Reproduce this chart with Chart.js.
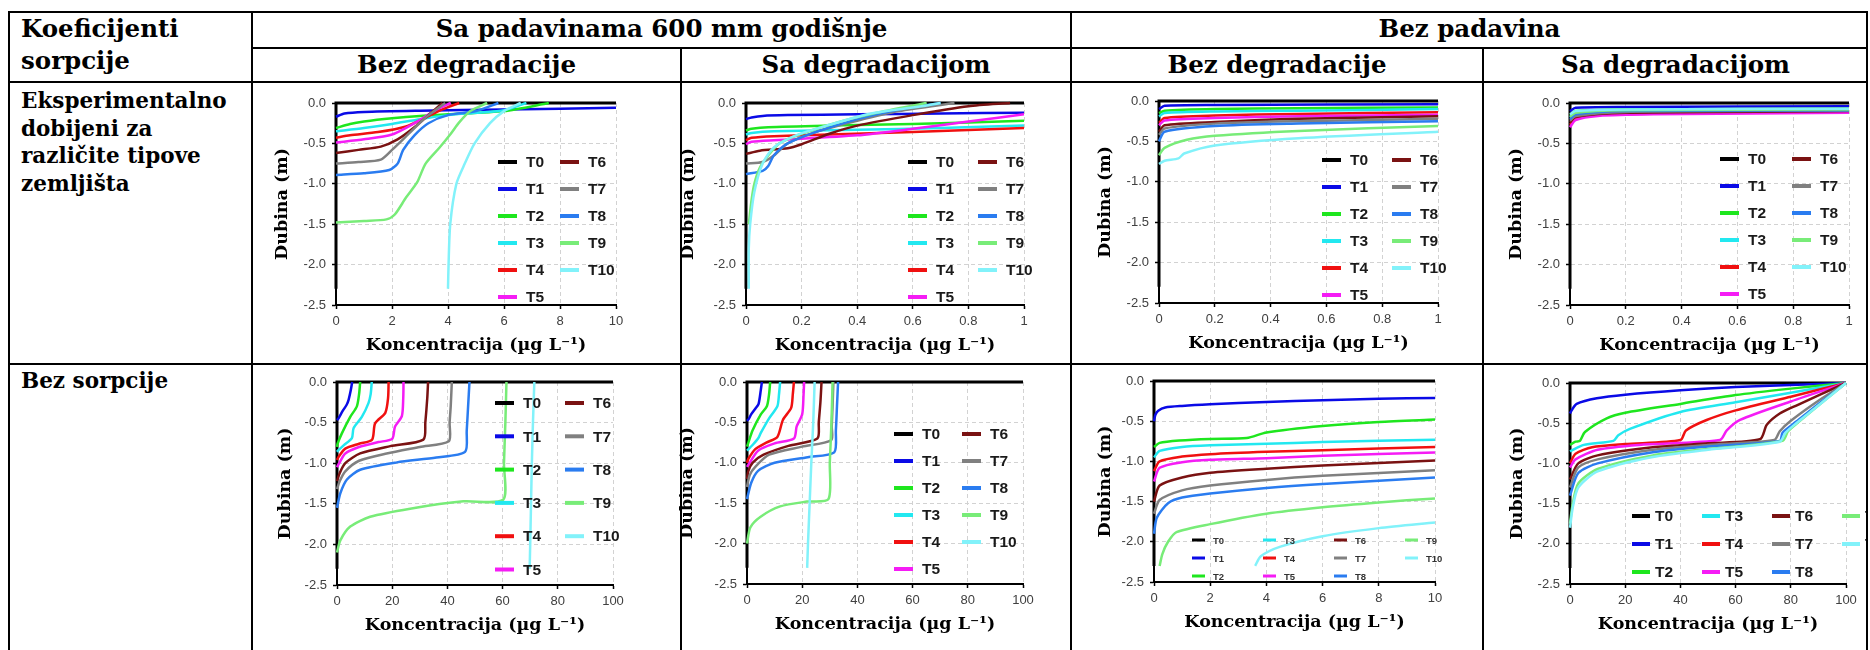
<!DOCTYPE html>
<html>
<head>
<meta charset="utf-8">
<script src="https://cdn.jsdelivr.net/npm/chart.js@4.4.0/dist/chart.umd.min.js"></script>
<style>
body { margin: 0; background: #fff; width: 1870px; height: 650px; overflow: hidden; position: relative; font-family: 'DejaVu Serif', serif; }
.ln { position: absolute; background: #000; z-index: 2; }
.tx { position: absolute; font-weight: bold; color: #000; white-space: nowrap; }
.hd { font-size: 24.5px; line-height: 32px; }
.rl { font-size: 21.5px; line-height: 27.7px; }
.c { text-align: center; }
canvas { position: absolute; z-index: 1; }
</style>
</head>
<body>
<div class="ln" style="left:9px;top:11px;width:1859px;height:2px"></div>
<div class="ln" style="left:8px;top:11px;width:2px;height:639px"></div>
<div class="ln" style="left:1866px;top:11px;width:2px;height:639px"></div>
<div class="ln" style="left:251px;top:11px;width:2px;height:639px"></div>
<div class="ln" style="left:1070px;top:11px;width:2px;height:639px"></div>
<div class="ln" style="left:680px;top:48px;width:2px;height:602px"></div>
<div class="ln" style="left:1482px;top:48px;width:2px;height:602px"></div>
<div class="ln" style="left:252px;top:47px;width:1616px;height:2px"></div>
<div class="ln" style="left:9px;top:81px;width:1859px;height:2px"></div>
<div class="ln" style="left:9px;top:363px;width:1859px;height:2px"></div>

<div class="tx hd" style="left:21px;top:13px">Koeficijenti<br>sorpcije</div>
<div class="tx hd c" style="left:252px;top:13px;width:819px">Sa padavinama 600 mm godišnje</div>
<div class="tx hd c" style="left:1071px;top:13px;width:797px">Bez padavina</div>
<div class="tx hd c" style="left:252px;top:49px;width:429px">Bez degradacije</div>
<div class="tx hd c" style="left:681px;top:49px;width:390px">Sa degradacijom</div>
<div class="tx hd c" style="left:1071px;top:49px;width:412px">Bez degradacije</div>
<div class="tx hd c" style="left:1483px;top:49px;width:385px">Sa degradacijom</div>
<div class="tx rl" style="left:21px;top:87px">Eksperimentalno<br>dobijeni za<br>različite tipove<br>zemljišta</div>
<div class="tx rl" style="left:21px;top:367px">Bez sorpcije</div>

<script>
// tick values
const depthTicks = [-2.5, -2, -1.5, -1, -0.5, 0];
const ticksTen = [0, 2, 4, 6, 8, 10];
const ticksOne = [0, 0.2, 0.4, 0.6, 0.8, 1];
const ticksHundred = [0, 20, 40, 60, 80, 100];

const seriesNames = ['T0', 'T1', 'T2', 'T3', 'T4', 'T5', 'T6', 'T7', 'T8', 'T9', 'T10'];
const seriesColors = ['#000000', '#0a0ae6', '#1ee61e', '#22e8f0', '#f01010', '#f51cf5',
                      '#7a1212', '#808080', '#2a7cf0', '#78ec78', '#82f2fa'];

// [koncentracija, dubina] for T0..T10
// sa padavinama, bez degradacije, eksperimentalna sorpcija
const rainNoDeg = [
  [[10, 0], [0, 0], [0, -2.3]],
  [[0, -0.17], [0.3, -0.13], [1, -0.11], [3, -0.095], [6, -0.08], [10, -0.06]],
  [[0, -0.31], [0.5, -0.26], [1, -0.23], [2, -0.19], [3, -0.16], [4, -0.14], [6, -0.1], [7.6, 0]],
  [[0, -0.35], [1, -0.31], [2, -0.26], [3, -0.2], [4, -0.15], [5, -0.12], [6, -0.09], [6.8, 0]],
  [[0, -0.43], [0.5, -0.4], [1.5, -0.36], [2.5, -0.29], [3.2, -0.18], [3.8, -0.08], [4.4, 0]],
  [[0, -0.49], [1, -0.45], [2, -0.39], [2.8, -0.25], [3.5, -0.1], [4.1, 0]],
  [[0, -0.62], [0.8, -0.58], [1.6, -0.54], [2.2, -0.45], [2.8, -0.3], [3.4, -0.12], [3.8, 0]],
  [[0, -0.75], [0.8, -0.73], [1.6, -0.7], [2, -0.58], [2.6, -0.38], [3.2, -0.18], [3.9, 0]],
  [[0, -0.89], [1, -0.87], [1.9, -0.83], [2.2, -0.75], [2.4, -0.58], [2.8, -0.4], [3.3, -0.25], [4, -0.15], [5, -0.1], [5.8, 0]],
  [[0, -1.48], [1, -1.46], [1.8, -1.44], [2.1, -1.38], [2.5, -1.17], [2.9, -0.98], [3.2, -0.75], [3.7, -0.55], [4.1, -0.38], [4.4, -0.24], [4.8, -0.1], [5.4, 0]],
  [[4, -2.3], [4.02, -2.0], [4.08, -1.5], [4.3, -1.0], [4.6, -0.75], [4.95, -0.5], [5.5, -0.25], [6, -0.1], [6.6, 0]]
];

// sa padavinama, sa degradacijom, eksperimentalna sorpcija
const rainDeg = [
  [[1, 0], [0, 0], [0, -2.3]],
  [[0, -0.2], [0.02, -0.18], [0.06, -0.16], [0.15, -0.15], [0.4, -0.14], [0.7, -0.13], [1, -0.12]],
  [[0, -0.34], [0.02, -0.32], [0.08, -0.3], [0.3, -0.28], [0.6, -0.26], [1, -0.22]],
  [[0, -0.39], [0.02, -0.37], [0.1, -0.35], [0.4, -0.33], [0.7, -0.31], [1, -0.28]],
  [[0, -0.46], [0.02, -0.43], [0.1, -0.41], [0.3, -0.39], [0.6, -0.36], [1, -0.31]],
  [[0, -0.51], [0.02, -0.48], [0.1, -0.46], [0.4, -0.4], [0.6, -0.32], [0.8, -0.23], [1, -0.14]],
  [[0, -0.63], [0.05, -0.59], [0.15, -0.56], [0.2, -0.51], [0.3, -0.38], [0.4, -0.28], [0.6, -0.15], [0.8, -0.04], [0.95, 0]],
  [[0, -0.75], [0.06, -0.73], [0.1, -0.65], [0.15, -0.5], [0.25, -0.36], [0.4, -0.22], [0.55, -0.1], [0.75, 0]],
  [[0, -0.88], [0.06, -0.84], [0.08, -0.78], [0.1, -0.65], [0.15, -0.5], [0.25, -0.36], [0.4, -0.2], [0.55, -0.08], [0.7, 0]],
  [[0.01, -1.5], [0.02, -1.2], [0.03, -1.0], [0.05, -0.8], [0.08, -0.65], [0.12, -0.5], [0.2, -0.38], [0.35, -0.22], [0.5, -0.1], [0.65, 0]],
  [[0.01, -2.3], [0.01, -1.8], [0.015, -1.5], [0.03, -1.1], [0.06, -0.75], [0.1, -0.55], [0.18, -0.4], [0.3, -0.27], [0.45, -0.13], [0.65, -0.03], [0.7, 0]]
];

// bez padavina, bez degradacije, eksperimentalna sorpcija
const dryNoDeg = [
  [[1, 0], [0, 0], [0, -2.3]],
  [[0, -0.1], [0.02, -0.06], [0.2, -0.05], [1, -0.04]],
  [[0, -0.15], [0.02, -0.12], [0.2, -0.1], [0.5, -0.09], [1, -0.08]],
  [[0, -0.19], [0.02, -0.15], [0.2, -0.13], [0.5, -0.12], [1, -0.1]],
  [[0, -0.27], [0.02, -0.21], [0.2, -0.18], [0.5, -0.16], [1, -0.14]],
  [[0, -0.3], [0.02, -0.24], [0.2, -0.21], [0.5, -0.19], [1, -0.17]],
  [[0, -0.38], [0.02, -0.3], [0.2, -0.26], [0.5, -0.22], [1, -0.19]],
  [[0, -0.42], [0.02, -0.34], [0.2, -0.28], [0.5, -0.25], [1, -0.22]],
  [[0, -0.5], [0.02, -0.38], [0.2, -0.31], [0.5, -0.28], [1, -0.25]],
  [[0, -0.67], [0.02, -0.58], [0.1, -0.48], [0.2, -0.43], [0.5, -0.37], [1, -0.31]],
  [[0, -0.78], [0.02, -0.74], [0.07, -0.71], [0.09, -0.65], [0.2, -0.55], [0.5, -0.46], [1, -0.38]]
];

// bez padavina, sa degradacijom, eksperimentalna sorpcija
const dryDeg = [
  [[1, 0], [0, 0], [0, -2.3]],
  [[0, -0.1], [0.02, -0.06], [0.2, -0.05], [1, -0.04]],
  [[0, -0.15], [0.02, -0.1], [0.2, -0.08], [1, -0.07]],
  [[0, -0.18], [0.02, -0.12], [0.2, -0.09], [1, -0.08]],
  [[0, -0.27], [0.02, -0.19], [0.1, -0.15], [0.3, -0.13], [1, -0.11]],
  [[0, -0.3], [0.02, -0.21], [0.1, -0.16], [0.3, -0.14], [1, -0.12]],
  [[0, -0.24], [0.02, -0.17], [0.2, -0.12], [1, -0.1]],
  [[0, -0.22], [0.02, -0.16], [0.2, -0.11], [1, -0.095]],
  [[0, -0.2], [0.02, -0.14], [0.2, -0.1], [1, -0.09]],
  [[0, -0.17], [0.02, -0.12], [0.2, -0.09], [1, -0.08]],
  [[0, -0.14], [0.02, -0.1], [0.2, -0.08], [1, -0.07]]
];

// bez sorpcije, sa padavinama, bez degradacije
const rainNoDegNs = [
  [[100, 0], [0, 0], [0, -2.3]],
  [[5.5, 0], [5, -0.1], [4.2, -0.22], [3.5, -0.28], [2, -0.36], [0.5, -0.45], [0, -0.47]],
  [[8.4, 0], [8, -0.15], [7.2, -0.3], [4.8, -0.43], [1.8, -0.63], [0.2, -0.76], [0, -0.8]],
  [[12.6, 0], [12.2, -0.15], [11.4, -0.26], [9, -0.43], [6, -0.57], [5.4, -0.69], [2.4, -0.78], [0.5, -0.84], [0, -0.86]],
  [[18.7, 0], [18.5, -0.2], [17.5, -0.38], [13.8, -0.51], [12.7, -0.71], [8, -0.76], [3, -0.82], [0.6, -0.92], [0, -0.96]],
  [[24.1, 0], [24, -0.2], [23.5, -0.42], [21, -0.55], [20, -0.7], [15, -0.74], [8, -0.8], [3, -0.88], [0.8, -1.0], [0, -1.05]],
  [[33, 0], [32.7, -0.2], [32, -0.5], [31.3, -0.71], [19.3, -0.79], [8.4, -0.88], [3, -1.0], [1, -1.12], [0, -1.22]],
  [[41.6, 0], [41.2, -0.3], [40.8, -0.5], [40.5, -0.73], [30, -0.8], [18, -0.88], [8, -0.97], [3, -1.1], [1, -1.22], [0, -1.32]],
  [[48, 0], [47.5, -0.3], [47, -0.6], [46.4, -0.86], [36, -0.93], [21.7, -0.99], [8.4, -1.08], [3.6, -1.2], [1.2, -1.37], [0, -1.55]],
  [[61.4, 0], [61, -0.5], [60.5, -1.0], [60.2, -1.45], [45.8, -1.47], [26.5, -1.56], [12, -1.66], [4.8, -1.78], [1.2, -1.95], [0, -2.1]],
  [[71.5, 0], [71, -0.5], [70.6, -1.0], [70.3, -1.5], [70, -2.0], [69.8, -2.3]]
];

// bez sorpcije, sa padavinama, sa degradacijom
const rainDegNs = [
  [[100, 0], [0, 0], [0, -2.3]],
  [[5.4, 0], [5, -0.1], [4.2, -0.27], [3, -0.33], [1.5, -0.4], [0.6, -0.46], [0, -0.48]],
  [[8.4, 0], [8, -0.15], [7.2, -0.3], [5, -0.4], [2, -0.6], [0.5, -0.75], [0, -0.8]],
  [[12, 0], [11.6, -0.15], [11, -0.3], [8, -0.45], [5, -0.63], [4, -0.7], [2, -0.78], [0, -0.85]],
  [[17, 0], [16.6, -0.15], [16, -0.32], [13, -0.47], [11, -0.68], [7, -0.75], [3, -0.83], [0.5, -0.95], [0, -1.0]],
  [[20.7, 0], [20.5, -0.15], [20, -0.4], [18, -0.55], [17, -0.7], [10, -0.76], [4, -0.85], [1, -1.0], [0, -1.05]],
  [[27, 0], [26.6, -0.25], [26, -0.5], [25.5, -0.7], [15, -0.79], [6, -0.9], [2, -1.0], [0.5, -1.1], [0, -1.2]],
  [[31.3, 0], [31, -0.3], [30.7, -0.55], [30.5, -0.72], [20, -0.8], [8, -0.9], [3, -1.05], [1, -1.15], [0, -1.3]],
  [[33, 0], [32.6, -0.3], [32.2, -0.6], [31.6, -0.87], [22, -0.93], [10, -1.0], [4, -1.1], [1.5, -1.25], [0, -1.45]],
  [[31, 0], [30.6, -0.5], [30, -1.0], [29.5, -1.45], [21.7, -1.48], [12, -1.54], [4.8, -1.67], [1.2, -1.8], [0, -2.0]],
  [[24.5, 0], [24, -0.5], [23.3, -1.0], [22.7, -1.5], [22.1, -2.0], [21.8, -2.3]]
];

// bez sorpcije, bez padavina, bez degradacije
const dryNoDegNs = [
  [[10, 0], [0, 0], [0, -2.3]],
  [[0, -0.5], [0.05, -0.42], [0.15, -0.37], [0.4, -0.33], [1, -0.31], [2, -0.29], [4, -0.26], [6, -0.24], [8, -0.22], [10, -0.21]],
  [[0, -0.82], [0.2, -0.77], [0.9, -0.74], [2, -0.72], [3.3, -0.71], [4, -0.64], [6, -0.56], [8, -0.51], [10, -0.48]],
  [[0, -0.95], [0.2, -0.87], [1, -0.82], [2, -0.8], [4, -0.78], [6, -0.76], [10, -0.73]],
  [[0, -1.12], [0.2, -1.0], [1, -0.94], [2, -0.91], [4, -0.88], [6, -0.86], [10, -0.82]],
  [[0, -1.25], [0.2, -1.08], [1, -1.01], [2, -0.98], [4, -0.96], [6, -0.93], [10, -0.89]],
  [[0, -1.5], [0.2, -1.3], [1, -1.2], [2, -1.14], [4, -1.09], [6, -1.05], [10, -0.99]],
  [[0, -1.65], [0.2, -1.48], [1, -1.36], [2, -1.3], [4, -1.23], [6, -1.18], [10, -1.11]],
  [[0, -1.9], [0.1, -1.7], [0.5, -1.52], [1, -1.45], [2, -1.4], [4, -1.33], [6, -1.28], [10, -1.2]],
  [[0.2, -2.3], [0.3, -2.15], [0.5, -2.0], [0.8, -1.88], [2, -1.78], [4, -1.65], [6, -1.57], [8, -1.51], [10, -1.46]],
  [[3.6, -2.3], [3.8, -2.18], [4.5, -2.06], [6, -1.93], [8, -1.83], [10, -1.76]]
];

// bez sorpcije, bez padavina, sa degradacijom
const dryDegNs = [
  [[100, 0], [0, 0], [0, -2.3]],
  [[0, -0.38], [0.6, -0.34], [2.4, -0.26], [9.7, -0.19], [20, -0.145], [40, -0.09], [60, -0.05], [80, -0.025], [100, 0]],
  [[0, -0.77], [2, -0.73], [3.6, -0.72], [5.4, -0.61], [13.3, -0.44], [20, -0.37], [40, -0.26], [60, -0.15], [80, -0.07], [100, 0]],
  [[0, -0.85], [5, -0.77], [15.7, -0.72], [17.5, -0.65], [21.7, -0.57], [40, -0.36], [60, -0.24], [80, -0.12], [100, 0]],
  [[0, -1.0], [2, -0.88], [8, -0.8], [20, -0.76], [40, -0.71], [42, -0.59], [49.5, -0.46], [60, -0.34], [80, -0.17], [100, 0]],
  [[0, -1.05], [2, -0.95], [10, -0.83], [25, -0.77], [54.3, -0.71], [56.8, -0.59], [61.6, -0.46], [80, -0.23], [100, 0]],
  [[0, -1.2], [3, -1.0], [10, -0.9], [30, -0.8], [50, -0.75], [68.8, -0.7], [71.3, -0.52], [76, -0.38], [82, -0.28], [100, 0]],
  [[0, -1.3], [3, -1.05], [10, -0.95], [30, -0.83], [50, -0.77], [74, -0.71], [76, -0.6], [80, -0.47], [90, -0.22], [100, 0]],
  [[0, -1.4], [3, -1.12], [10, -1.0], [30, -0.86], [50, -0.79], [76, -0.72], [77, -0.62], [82, -0.48], [90, -0.26], [100, 0]],
  [[0, -1.75], [1, -1.5], [3, -1.25], [10, -1.07], [30, -0.9], [50, -0.82], [77, -0.72], [79, -0.6], [83, -0.48], [90, -0.28], [100, 0]],
  [[0, -1.8], [1, -1.55], [3, -1.3], [10, -1.1], [30, -0.92], [50, -0.83], [76, -0.73], [78, -0.62], [82, -0.5], [90, -0.28], [100, 0]]
];

const inLegend = {
  id: 'inLegend',
  afterDraw: (chart, args, o) => {
    const ctx = chart.ctx;
    const area = chart.chartArea;
    ctx.save();
    ctx.font = 'bold ' + o.size + 'px "Liberation Sans", Arial, sans-serif';
    ctx.textBaseline = 'middle';
    chart.data.datasets.forEach((ds, i) => {
      const col = Math.floor(i / o.rows);
      const row = i % o.rows;
      const x = area.left + o.x + col * o.dx;
      const y = area.top + o.y + row * o.dy;
      ctx.strokeStyle = ds.borderColor;
      ctx.lineWidth = o.width;
      ctx.beginPath();
      ctx.moveTo(x, y);
      ctx.lineTo(x + o.len, y);
      ctx.stroke();
      ctx.fillStyle = o.color;
      ctx.fillText(ds.label, x + o.gap, y + 1);
    });
    ctx.restore();
  }
};

const Y_W = 80, X_H = 56, PAD_T = 14;

const makeChart = (series, xTicks, box, leg, yGap) => {
  const cv = document.createElement('canvas');
  cv.width = Y_W + box.w + box.r;
  cv.height = PAD_T + box.h + X_H;
  cv.style.left = (box.left - Y_W) + 'px';
  cv.style.top = (box.top - PAD_T) + 'px';
  document.body.appendChild(cv);

  const datasets = series.map((pts, i) => ({
    label: seriesNames[i],
    data: pts.map(p => ({ x: p[0], y: p[1] })),
    borderColor: seriesColors[i],
    backgroundColor: seriesColors[i],
    borderWidth: i === 0 ? 3 : 2.5,
    pointRadius: 0,
    tension: i === 0 ? 0 : 0.25,
    fill: false,
    clip: 6,
    order: 10 - i
  }));

  const grid = { color: '#d2d2d2', lineWidth: 1, tickLength: 4, tickColor: '#000', tickWidth: 1.5, tickBorderDash: [] };
  const border = { color: '#000', width: 2, dash: [4, 3] };
  const tickFont = { family: '"Liberation Sans", Arial, sans-serif', size: 13 };
  const titleFont = { family: '"DejaVu Serif", serif', weight: 'bold', size: 17.5, lineHeight: 1.2 };

  return new Chart(cv.getContext('2d'), {
    type: 'line',
    data: { datasets: datasets },
    plugins: [inLegend],
    options: {
      responsive: false,
      animation: false,
      events: [],
      layout: { padding: { top: PAD_T, right: box.r, left: 0, bottom: 0 } },
      plugins: {
        legend: { display: false },
        tooltip: { enabled: false },
        inLegend: leg
      },
      scales: {
        x: {
          type: 'linear',
          min: xTicks[0],
          max: xTicks[xTicks.length - 1],
          afterBuildTicks: s => { s.ticks = xTicks.map(v => ({ value: v })); },
          afterFit: s => { s.height = X_H; },
          ticks: { callback: v => String(v), font: tickFont, color: '#404040', padding: 5, maxRotation: 0, autoSkip: false },
          grid: grid,
          border: border,
          title: { display: true, text: 'Koncentracija (µg L⁻¹)', font: titleFont, color: '#000', padding: { top: 0, bottom: 5.5 } }
        },
        y: {
          type: 'linear',
          min: -2.5,
          max: 0,
          afterBuildTicks: s => { s.ticks = depthTicks.map(v => ({ value: v })); },
          afterFit: s => { s.width = Y_W; },
          ticks: { callback: v => v.toFixed(1), font: tickFont, color: '#404040', padding: 6, autoSkip: false },
          grid: grid,
          border: border,
          title: { display: true, text: 'Dubina (m)', font: titleFont, color: '#000', padding: { top: Y_W - yGap - 10.5, bottom: 0 } }
        }
      }
    }
  });
};

const bigLeg = (x, y, dx, dy) => ({ x: x, y: y, dx: dx, dy: dy, rows: 6, len: 19, gap: 28, size: 15.5, width: 4, color: '#1a1a1a' });

makeChart(rainNoDeg, ticksTen, { left: 336, top: 103, w: 280, h: 202, r: 40 }, bigLeg(162, 59, 62, 27), 54);
makeChart(rainDeg, ticksOne, { left: 746, top: 103, w: 278, h: 202, r: 40 }, bigLeg(162, 59, 70, 27), 58);
makeChart(dryNoDeg, ticksOne, { left: 1159, top: 101, w: 279, h: 202, r: 38 }, bigLeg(163, 59, 70, 27), 54);
makeChart(dryDeg, ticksOne, { left: 1570, top: 103, w: 279, h: 202, r: 16 }, bigLeg(150, 56, 72, 27), 54);
makeChart(rainNoDegNs, ticksHundred, { left: 337, top: 382, w: 276, h: 203, r: 40 }, bigLeg(158, 21, 70, 33.3), 52);
makeChart(rainDegNs, ticksHundred, { left: 747, top: 382, w: 276, h: 202, r: 40 }, bigLeg(147, 52, 68, 27), 60);
makeChart(dryNoDegNs, ticksTen, { left: 1154, top: 381, w: 281, h: 201, r: 40 },
  { x: 38, y: 159, dx: 71, dy: 18, rows: 3, len: 13, gap: 21, size: 9.5, width: 3, color: '#333' }, 49);
makeChart(dryDegNs, ticksHundred, { left: 1570, top: 383, w: 276, h: 201, r: 20 },
  { x: 62, y: 133, dx: 70, dy: 28, rows: 3, len: 18, gap: 23, size: 15.5, width: 4, color: '#1a1a1a' }, 53);
</script>
</body>
</html>
